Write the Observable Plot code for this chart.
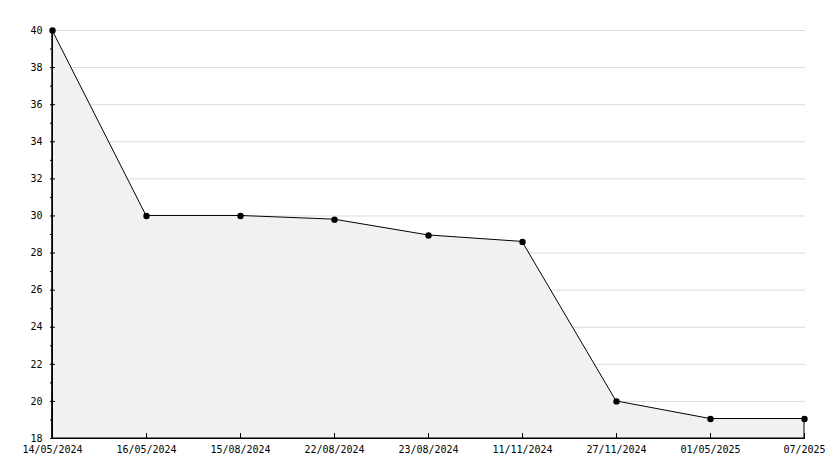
<!DOCTYPE html>
<html><head><meta charset="utf-8">
<script src="https://cdn.jsdelivr.net/npm/d3@7"></script>
<script src="https://cdn.jsdelivr.net/npm/@observablehq/plot@0.6"></script>
<style>body{margin:0;background:#fff} svg{display:block}</style>
</head><body><div id="chart"></div>
<script>
const dates = ["14/05/2024","16/05/2024","15/08/2024","22/08/2024","23/08/2024","11/11/2024","27/11/2024","01/05/2025","07/2025"];
const values = [40, 30, 30, 29.8, 28.95, 28.6, 20, 19.05, 19.05];
const yDomain = [18, 40];
const yMajor = [18,20,22,24,26,28,30,32,34,36,38,40];
const yMinor = [19,21,23,25,27,29,31,33,35,37,39];

const data = dates.map((d, i) => ({date: d, value: values[i]}));

const chart = Plot.plot({
  width: 834, height: 468,
  marginLeft: 50, marginRight: 29, marginTop: 30, marginBottom: 30,
  style: {fontFamily: "'DejaVu Sans Mono', monospace", fontSize: "10px", color: "#000", background: "#fff"},
  x: {type: "point", domain: dates, padding: 0, label: null},
  y: {domain: yDomain, label: null},
  marks: [
    Plot.gridY(yMajor, {stroke: "#dcdcdc", strokeOpacity: 1}),
    Plot.areaY(data, {x: "date", y1: () => yDomain[0], y2: "value", fill: "#f1f1f1", stroke: "#000", strokeWidth: 1}),
    Plot.ruleX([dates[0]], {stroke: "#000"}),
    Plot.ruleY([yDomain[0]], {stroke: "#000"}),
    Plot.dot(data, {x: "date", y: "value", symbol: "circle", r: 3.2, fill: "#000"}),
    Plot.axisY(yMajor, {tickSize: -5, tickPadding: 13, label: null}),
    Plot.axisY(yMinor, {tickSize: -3, fill: "none", label: null}),
    Plot.axisX({tickSize: -5, tickPadding: 12, label: null})
  ]
});
document.getElementById("chart").append(chart);
</script>
</body></html>
